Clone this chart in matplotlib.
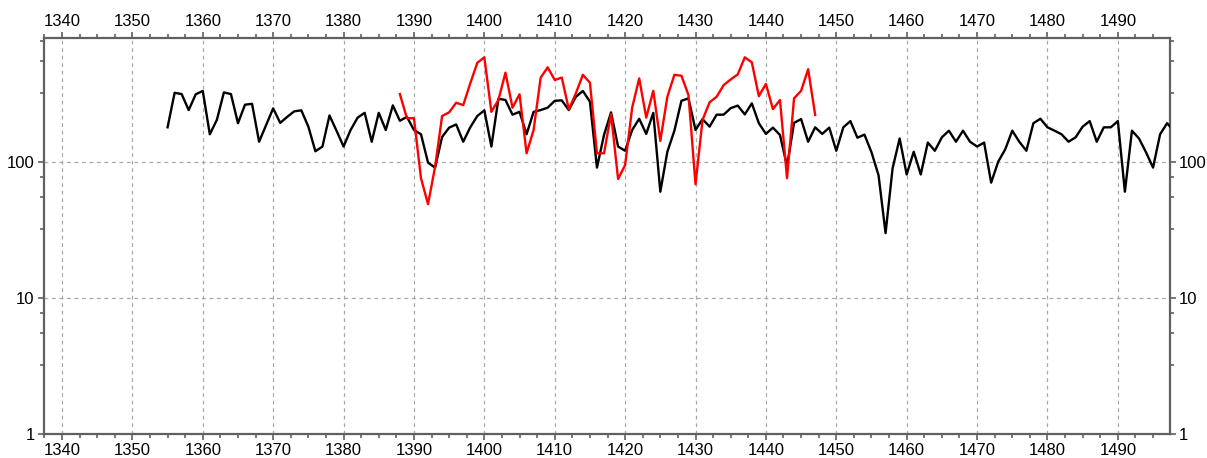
import matplotlib.pyplot as plt
import numpy as np
from matplotlib.ticker import MultipleLocator, FixedLocator, NullFormatter

plt.rcParams['font.family'] = ['Liberation Sans', 'DejaVu Sans']

# black series: yearly values 1355-1498
black_start = 1355
black_values = [
    180, 323, 316, 241, 315, 333, 160, 204, 325, 316,   # 1355-1364
    193, 264, 268, 141, 187, 248, 194, 215, 236, 240,   # 1365-1374
    182, 120, 130, 220, 170, 130, 172, 212, 230, 141,   # 1375-1384
    230, 172, 261, 201, 215, 172, 160, 99, 91, 153,     # 1385-1394
    179, 189, 141, 180, 218, 240, 130, 292, 286, 223,   # 1395-1404
    234, 160, 234, 241, 251, 282, 284, 241, 302, 333,   # 1405-1414
    278, 91, 158, 232, 130, 121, 172, 208, 161, 230,    # 1415-1424
    60.5, 119, 170, 282, 294, 172, 207, 182, 223, 223,  # 1425-1434
    249, 260, 224, 270, 193, 161, 179, 158, 93.5, 194,  # 1435-1444
    207, 141, 180, 161, 179, 121, 180, 200, 151, 159,   # 1445-1454
    118, 80, 30, 90, 149, 81, 119, 81, 139, 121,        # 1455-1464
    152, 170, 141, 170, 141, 130, 139, 70.5, 100.5, 124,  # 1465-1474
    170, 141, 121, 193, 208, 180, 170, 160, 141, 152,   # 1475-1484
    182, 200, 141, 180, 180, 200, 60.5, 170, 149, 118,  # 1485-1494
    91, 160, 193, 168,                                  # 1495-1498
]

# red series: yearly values 1388-1447
red_start = 1388
red_values = [
    316, 210, 210, 76, 49, 92, 218, 232, 273, 262,      # 1388-1397
    379, 537, 589, 234, 286, 454, 251, 315, 116, 172,   # 1398-1407
    417, 497, 401, 418, 244, 320, 438, 383, 116, 116,   # 1408-1417
    225, 75, 95, 251, 412, 212, 334, 143, 302, 438,     # 1418-1427
    431, 311, 68.6, 204, 275, 302, 368, 405, 441, 589,  # 1428-1437
    541, 305, 375, 245, 286, 76, 294, 334, 481, 222,    # 1438-1447
]

black_years = np.arange(black_start, black_start + len(black_values))
red_years = np.arange(red_start, red_start + len(red_values))

fig = plt.figure(figsize=(12.07, 4.58), dpi=100)
ax = fig.add_axes([0.0362, 0.0524, 0.9331, 0.8653])

ax.plot(black_years, black_values, color='black', linewidth=1.7, zorder=3)
ax.plot(red_years, red_values, color='#ff0000', linewidth=1.7, zorder=4)

ax.set_yscale('log')
ax.set_xlim(1337.4, 1497.4)
ax.set_ylim(1, 821)

ax.xaxis.set_major_locator(MultipleLocator(10))
ax.xaxis.set_minor_locator(MultipleLocator(2.5))
ax.yaxis.set_major_locator(FixedLocator([1, 10, 100]))
ax.set_yticklabels(['1', '10', '100'])
minor_y = []
for dec in [10, 100, 1000]:
    for f in [0.11, 0.255, 0.49]:
        minor_y.append(dec * 10 ** (-f))
ax.yaxis.set_minor_locator(FixedLocator(minor_y))
ax.yaxis.set_minor_formatter(NullFormatter())

ax.tick_params(which='both', direction='out', top=True, right=True,
               labeltop=True, labelright=True, colors='#606060',
               labelcolor='black', labelsize=12, width=1.2)
ax.tick_params(which='major', length=4.5, pad=2)
ax.tick_params(which='minor', length=3)

for s in ax.spines.values():
    s.set_color('#606060')
    s.set_linewidth(1.6)

ax.grid(True, which='major', linestyle=(0, (3, 3)), color='#a8a8a8', linewidth=0.9)

fig.savefig('out.png', dpi=100)
